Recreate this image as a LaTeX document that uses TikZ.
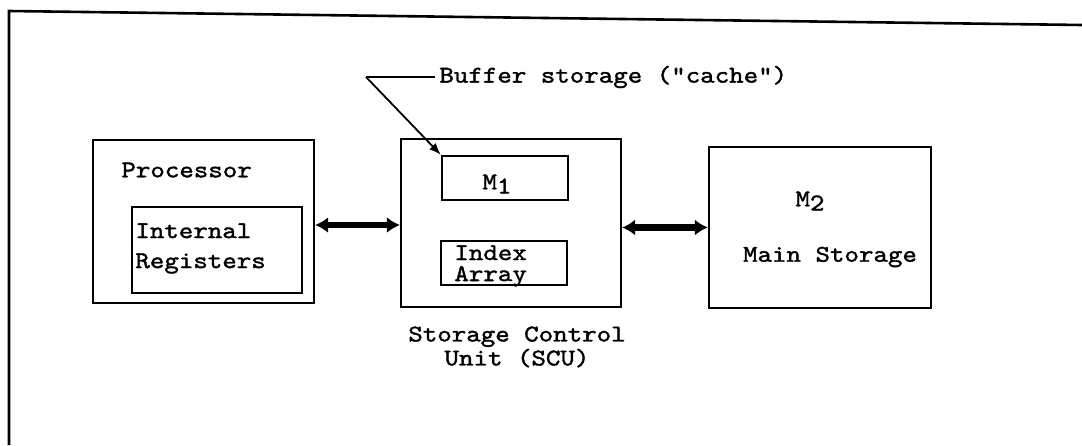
\documentclass[tikz,border=0pt]{standalone}
\usepackage{fontspec}
\setmonofont[FakeStretch=1.15,FakeBold=1.5]{lmmono10-regular.otf}
\usetikzlibrary{arrows.meta,positioning}
\def\px{0.5pt}

\begin{document}
\begin{tikzpicture}[x=\px,y=-\px,
    font=\ttfamily\fontsize{12}{15}\selectfont,
    bus/.style={{Latex[length=6.5pt,width=8pt]}-{Latex[length=6.5pt,width=8pt]},line width=3.2pt},
    pointer/.style={-{Latex[length=6pt,width=4.5pt]},line width=0.9pt},
    txt/.style={inner sep=0pt}]
    \tikzstyle{blk}=[draw,line width=1.1pt,inner sep=0pt]
    \tikzstyle{unit}=[blk]
    \tikzstyle{field}=[blk,minimum width=126*\px,minimum height=44*\px]

    \useasboundingbox (0,0) rectangle (1082,445);

    % Draw the frame
    \draw[line width=1.3pt] (9,445) -- (9,11) -- (1082,25);

    % Draw the processor
    \node[unit,minimum width=221*\px,minimum height=163*\px] (proc) at (203.5,221.5) {};
    \node[txt,anchor=west] (proc-t) at (121,170) {Processor};
    \node[blk,minimum width=170*\px,minimum height=86*\px] (regs) at (217,250) {};
    \node[txt,anchor=north west,align=left] (regs-t) at (135,223) {Internal\\Registers};

    % Draw the storage control unit
    \node[unit,minimum width=220*\px,minimum height=168*\px] (scu) at (511,223) {};
    \node[field] (m1) at (505,178) {};
    \node[txt] (m1-t) at (497,184) {M\raisebox{-0.4ex}{1}};
    \node[field] (idx) at (504,263) {};
    \node[txt,anchor=north west,align=left,font=\ttfamily\fontsize{12}{10.5}\selectfont] (idx-t) at (454,245) {Index\\Array};
    \node[txt,below=9pt of scu,xshift=3pt,align=center,font=\ttfamily\fontsize{12}{12}\selectfont] (scu-t) {Storage Control\\Unit (SCU)};

    % Draw the main storage
    \node[unit,minimum width=222*\px,minimum height=161*\px] (main) at (820,227.5) {};
    \node[txt] (m2-t) at (810,201) {M\raisebox{-0.4ex}{2}};
    \node[txt] (main-t) at (830,257) {Main Storage};

    % Connect the units
    \draw[bus] (proc.east |- 0,225) -- (scu.west |- 0,225);
    \draw[bus] (scu.east |- main.west) -- (main.west);

    % Annotate the cache
    \node[txt,anchor=west,inner xsep=2pt] (buf) at (435,77) {Buffer storage ("cache")};
    \coordinate (bend) at (366,77);
    \draw[line width=0.9pt] (buf.west) -- (bend);
    \draw[pointer] (bend) -- (m1.north west);
\end{tikzpicture}
\end{document}
